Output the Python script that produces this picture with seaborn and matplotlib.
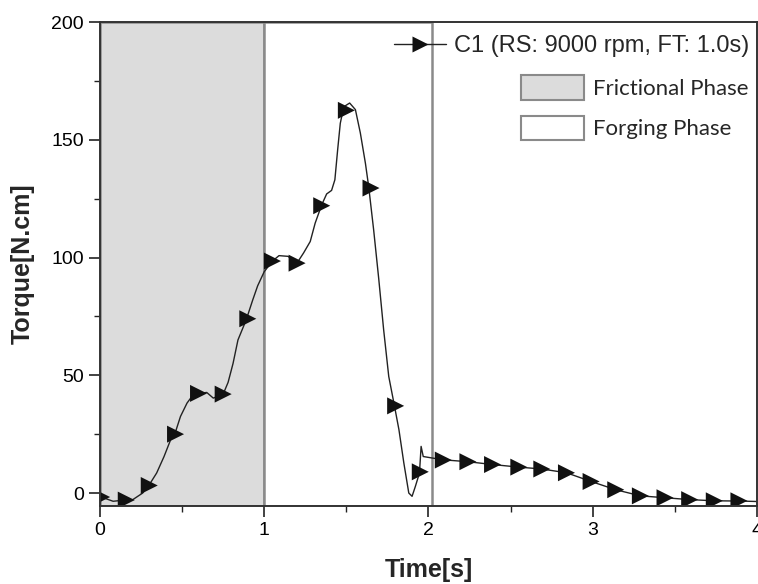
import pandas as pd
import matplotlib.pyplot as plt
import seaborn as sns
from matplotlib.lines import Line2D
from matplotlib.patches import Patch
from matplotlib.ticker import MultipleLocator

# torque curve
time_s = [0.0, 0.08, 0.15, 0.20, 0.26, 0.30, 0.345, 0.39, 0.43, 0.46, 0.49, 0.53, 0.57,
          0.60, 0.65, 0.69, 0.75, 0.78, 0.81, 0.84, 0.89, 0.93, 0.96, 1.0, 1.05, 1.09,
          1.145, 1.2, 1.24, 1.28, 1.31, 1.35, 1.38, 1.41, 1.43, 1.447, 1.463, 1.484,
          1.52, 1.555, 1.585, 1.616, 1.636, 1.666, 1.697, 1.727, 1.758, 1.79, 1.82,
          1.85, 1.88, 1.90, 1.92, 1.945, 1.955, 1.968, 2.02, 2.09, 2.24, 2.39, 2.55,
          2.69, 2.84, 2.99, 3.14, 3.29, 3.44, 3.59, 3.74, 3.89, 4.0]
torque = [-1.5, -3.5, -3.0, -2.8, 0.0, 3.5, 8.5, 15.5, 22.6, 26.0, 32.5, 38.2, 42.0,
          42.3, 42.7, 40.3, 42.0, 47.0, 55.0, 65.0, 73.5, 82.0, 88.0, 94.0, 98.5, 100.8,
          100.5, 97.7, 102.0, 106.8, 114.6, 122.4, 127.0, 128.5, 133.0, 145.8, 157.0, 164.0,
          165.6, 162.8, 152.9, 140.0, 130.0, 111.8, 91.0, 69.3, 49.5, 38.0, 26.9,
          12.7, 0.0, -1.4, 2.8, 8.5, 19.8, 15.5, 14.9, 14.1, 13.3, 12.1, 11.0,
          10.2, 8.6, 4.9, 1.4, -1.2, -2.0, -2.8, -3.3, -3.4, -3.6]

# marker positions
marker_t = [0.01, 0.16, 0.30, 0.46, 0.60, 0.75, 0.90, 1.05, 1.20, 1.35, 1.50, 1.65, 1.80,
            1.95, 2.09, 2.24, 2.39, 2.55, 2.69, 2.84, 2.99, 3.14, 3.29, 3.44, 3.59, 3.74, 3.89]
marker_y = [-1.7, -3.0, 3.2, 25.0, 42.3, 42.0, 74.0, 98.5, 97.6, 122.0, 162.5, 129.5, 37.0,
            9.0, 14.0, 13.3, 12.1, 11.0, 10.2, 8.6, 4.9, 1.4, -1.2, -2.0, -2.8, -3.3, -3.3]

frictional = (0.0, 1.0)
forging = (1.0, 2.02)

curve = pd.DataFrame({'t': time_s, 'torque': torque})
marks = pd.DataFrame({'t': marker_t, 'torque': marker_y})

sns.set_style("ticks")
plt.rcParams['font.family'] = ['Liberation Sans', 'DejaVu Sans']

fig = plt.figure(figsize=(7.58, 5.84), dpi=100)
ax = fig.add_axes([0.1319, 0.1336, 0.8668, 0.8287])

ax.axvspan(*frictional, facecolor='#dcdcdc', edgecolor='#8a8a8a', lw=1.8, zorder=0)
ax.axvspan(*forging, facecolor='white', edgecolor='#8a8a8a', lw=1.8, zorder=0)

sns.lineplot(data=curve, x='t', y='torque', color='#222222', lw=1.0, ax=ax, zorder=3)
sns.scatterplot(data=marks, x='t', y='torque', marker='>', s=150, color='#111111',
                edgecolor='none', ax=ax, zorder=4)

ax.set_xlim(0, 4)
ax.set_ylim(-5.5, 200)
ax.xaxis.set_major_locator(MultipleLocator(1))
ax.xaxis.set_minor_locator(MultipleLocator(0.5))
ax.yaxis.set_major_locator(MultipleLocator(50))
ax.yaxis.set_minor_locator(MultipleLocator(25))
ax.tick_params(which='major', direction='out', length=8, width=1.2, labelsize=14,
               colors='#222222', labelcolor='black')
ax.tick_params(which='minor', direction='out', length=4, width=1.0, colors='#222222')
for s in ax.spines.values():
    s.set_linewidth(1.4)
    s.set_color('#333333')
    s.set_zorder(5)

ax.set_xlabel('Time[s]', fontsize=18, fontweight='bold', labelpad=14)
ax.set_ylabel('Torque[N.cm]', fontsize=18, fontweight='bold', labelpad=12)

h1 = Line2D([], [], color='#222222', lw=1.0, marker='>', markersize=12,
            markerfacecolor='#111111', markeredgecolor='none')
leg1 = ax.legend([h1], ['C1 (RS: 9000 rpm, FT: 1.0s)'], loc='upper right',
                 bbox_to_anchor=(1.008, 1.0), frameon=False, fontsize=17,
                 handlelength=2.2, handletextpad=0.35, borderaxespad=0.15)
ax.add_artist(leg1)

h2 = [Patch(facecolor='#dcdcdc', edgecolor='#8a8a8a', lw=1.5),
      Patch(facecolor='white', edgecolor='#8a8a8a', lw=1.5)]
leg2 = ax.legend(h2, ['Frictional Phase', 'Forging Phase'], loc='upper right',
                 bbox_to_anchor=(1.007, 0.918), frameon=False,
                 prop={'family': ['Lato', 'DejaVu Sans'], 'size': 16},
                 handlelength=2.85, handleheight=1.35, handletextpad=0.4,
                 labelspacing=0.7, borderaxespad=0.2)

fig.savefig('out.png', dpi=100)
